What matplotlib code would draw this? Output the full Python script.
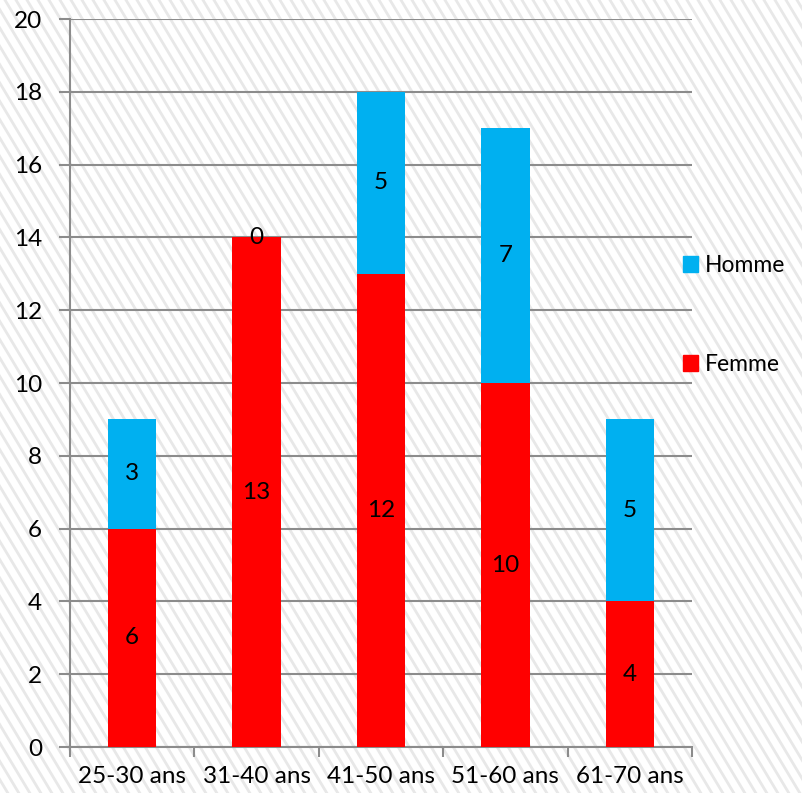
import matplotlib.pyplot as plt
import numpy as np
from matplotlib.lines import Line2D
from matplotlib.patches import Patch

# data
categories = ["25-30 ans", "31-40 ans", "41-50 ans", "51-60 ans", "61-70 ans"]
femme = [6, 14, 13, 10, 4]
homme = [3, 0, 5, 7, 5]
femme_labels = ["6", "13", "12", "10", "4"]
homme_labels = ["3", "0", "5", "7", "5"]

red = "#ff0000"
blue = "#00b0f0"
grid_col = "#8c8c8c"
fs = 17.5

plt.rcParams["font.family"] = ["Lato", "DejaVu Sans"]

fig = plt.figure(figsize=(8.02, 7.93), dpi=100)
fig.patch.set_facecolor("white")

# diagonal stripe background over the whole figure
bg = fig.add_axes([0, 0, 1, 1], zorder=-10)
bg.set_xlim(0, 802)
bg.set_ylim(793, 0)
bg.axis("off")
for x0 in np.arange(-600, 820, 11):
    bg.add_line(Line2D([x0, x0 + 0.6 * 793], [0, 793], color="#e8e8e8", lw=2.0))

ax = fig.add_axes([70 / 802, 1 - 747 / 793, 622 / 802, 728 / 793])
ax.patch.set_alpha(0)

x = np.arange(len(categories))
w = 0.39
ax.bar(x, femme, w, color=red, zorder=3, label="Femme")
ax.bar(x, homme, w, bottom=femme, color=blue, zorder=3, label="Homme")

for i in range(len(categories)):
    ax.text(x[i], femme[i] / 2, femme_labels[i], ha="center", va="center",
            fontsize=fs, zorder=4)
    ax.text(x[i], femme[i] + homme[i] / 2, homme_labels[i], ha="center",
            va="center", fontsize=fs, zorder=4)

ax.set_xlim(-0.5, len(categories) - 0.5)
ax.set_ylim(0, 20)
ax.set_yticks(range(0, 21, 2))
ax.yaxis.grid(True, color=grid_col, lw=1.5, zorder=1)
ax.set_xticks(x)
ax.set_xticklabels(categories, fontsize=fs)
ax.set_xticks(np.arange(-0.5, len(categories)), minor=True)
ax.tick_params(axis="x", which="major", length=0, pad=14)
ax.tick_params(axis="x", which="minor", length=7, width=1.5, color=grid_col)
ax.tick_params(axis="y", length=8, width=1.5, color=grid_col, labelsize=fs, pad=12)
for s in ["top", "right"]:
    ax.spines[s].set_visible(False)
for s in ["left", "bottom"]:
    ax.spines[s].set_color(grid_col)
    ax.spines[s].set_linewidth(1.5)

handles = [Patch(color=blue, label="Homme"), Patch(color=red, label="Femme")]
fig.legend(handles=handles, loc="center left", bbox_to_anchor=(0.851, 0.603),
           frameon=False, fontsize=16.5, handlelength=0.68, handleheight=0.68,
           handletextpad=0.3, labelspacing=3.4, borderpad=0, borderaxespad=0)

fig.savefig("out.png", dpi=100)
